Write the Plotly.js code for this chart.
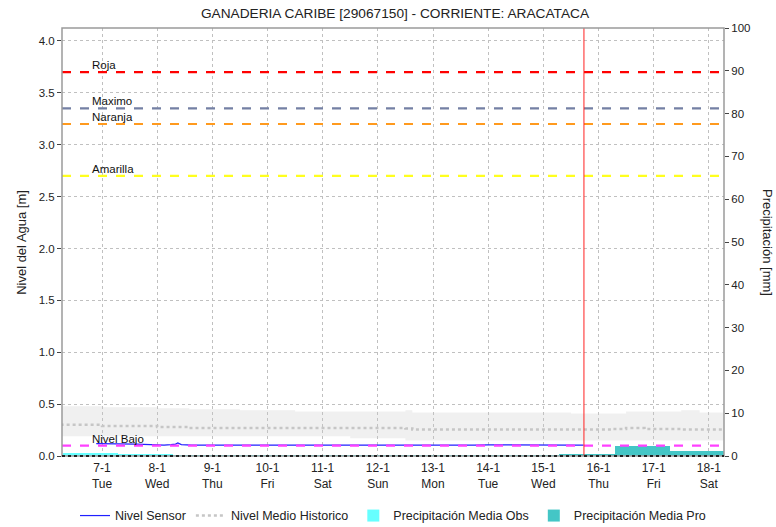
<!DOCTYPE html>
<html>
<head>
<meta charset="utf-8">
<script src="https://cdn.plot.ly/plotly-3.0.1.min.js"></script>
<style>html,body{margin:0;padding:0;background:#fff;}#chart{width:776px;height:527px;}</style>
</head>
<body>
<div id="chart"></div>
<script>
// ---- data ----
const sensorTime = ['2025-01-06 21:30','2025-01-07 03:00','2025-01-07 09:00','2025-01-07 15:00','2025-01-07 21:00','2025-01-08 03:00','2025-01-08 06:00','2025-01-08 08:00','2025-01-08 09:00','2025-01-08 10:30','2025-01-08 15:00','2025-01-08 21:00','2025-01-09 06:00','2025-01-09 18:00','2025-01-10 06:00','2025-01-10 18:00','2025-01-11 06:00','2025-01-11 18:00','2025-01-12 06:00','2025-01-12 12:00','2025-01-12 18:00','2025-01-13 06:00','2025-01-13 12:00','2025-01-13 18:00','2025-01-14 00:00','2025-01-14 12:00','2025-01-15 00:00','2025-01-15 06:00','2025-01-15 12:00','2025-01-15 17:30'];
const sensorVal  = [0.12,0.12,0.12,0.115,0.11,0.105,0.11,0.115,0.125,0.11,0.105,0.105,0.105,0.104,0.105,0.104,0.105,0.104,0.102,0.100,0.100,0.100,0.100,0.105,0.108,0.105,0.105,0.102,0.105,0.105];

const histTime  = ['2025-01-06 06:00','2025-01-07 00:00','2025-01-08 00:00','2025-01-08 14:00','2025-01-09 12:00','2025-01-10 12:00','2025-01-11 12:00','2025-01-12 12:00','2025-01-12 15:00','2025-01-13 12:00','2025-01-14 12:00','2025-01-15 12:00','2025-01-16 06:00','2025-01-16 12:00','2025-01-16 20:00','2025-01-17 12:00','2025-01-17 20:00','2025-01-18 08:00'];
const histUpper = [0.48,0.47,0.46,0.45,0.44,0.43,0.43,0.44,0.42,0.42,0.42,0.41,0.41,0.43,0.43,0.44,0.42,0.42];
const histLower = [0.19,0.19,0.19,0.19,0.19,0.19,0.17,0.15,0.15,0.15,0.15,0.15,0.15,0.15,0.15,0.15,0.15,0.15];
const histMedian= [0.30,0.29,0.28,0.27,0.27,0.27,0.27,0.265,0.255,0.255,0.255,0.255,0.26,0.27,0.26,0.255,0.255,0.255];

const obsStart = ['2025-01-06 07:00','2025-01-07 07:00','2025-01-08 07:00','2025-01-09 07:00','2025-01-10 07:00','2025-01-11 07:00','2025-01-12 07:00','2025-01-13 07:00','2025-01-14 07:00'];
const obsVal   = [0.6,0.5,0.3,0.3,0.3,0.3,0.3,0.3,0.3];
const proStart = ['2025-01-15 07:00','2025-01-16 07:00','2025-01-17 07:00'];
const proVal   = [0.4,2.3,1.25];

const thresholdNames  = ['Roja','Maximo','Naranja','Amarilla','Nivel Bajo'];
const thresholdValues = [3.7,3.35,3.2,2.7,0.1];
const thresholdColors = ['#ff0000','#7480a4','#ff9a1e','#ffff1e','#ff40ff'];

const dayTicks  = ['2025-01-07','2025-01-08','2025-01-09','2025-01-10','2025-01-11','2025-01-12','2025-01-13','2025-01-14','2025-01-15','2025-01-16','2025-01-17','2025-01-18'];
const dayLabels = ['7-1<br>Tue','8-1<br>Wed','9-1<br>Thu','10-1<br>Fri','11-1<br>Sat','12-1<br>Sun','13-1<br>Mon','14-1<br>Tue','15-1<br>Wed','16-1<br>Thu','17-1<br>Fri','18-1<br>Sat'];
const levelTicks = [0,0.5,1,1.5,2,2.5,3,3.5,4];
const precipTicks = [0,10,20,30,40,50,60,70,80,90,100];
const nowTime = '2025-01-15 17:40';
const xRange = ['2025-01-06 06:36','2025-01-18 06:36'];

const FONT = 'Liberation Sans, Arial, sans-serif';
const DAY = 86400000;

const traces = [
  {type:'bar', x:obsStart, y:obsVal, width:obsStart.map(()=>DAY), offset:0, marker:{color:'#66ffff', line:{width:0}}, name:'Precipitación Media Obs', yaxis:'y', xaxis:'x', legendrank:3},
  {type:'bar', x:proStart, y:proVal, width:proStart.map(()=>DAY), offset:0, marker:{color:'#44c6c6', line:{width:0}}, name:'Precipitación Media Pro', yaxis:'y', xaxis:'x', legendrank:4},
  {type:'scatter', mode:'lines', x:histTime, y:histLower, yaxis:'y2', line:{width:0, shape:'hv'}, showlegend:false, hoverinfo:'skip'},
  {type:'scatter', mode:'lines', x:histTime, y:histUpper, yaxis:'y2', line:{width:0, shape:'hv'}, fill:'tonexty', fillcolor:'rgba(200,200,200,0.27)', showlegend:false, hoverinfo:'skip'},
  {type:'scatter', mode:'lines', x:histTime, y:histMedian, yaxis:'y2', line:{color:'#c6c6c6', width:2.5, dash:'dot', shape:'hv'}, name:'Nivel Medio Historico', legendrank:2},
  {type:'scatter', mode:'lines', x:sensorTime, y:sensorVal, yaxis:'y2', line:{color:'#2020ff', width:1.2}, name:'Nivel Sensor', legendrank:1}
];

const shapes = [];
const annotations = [];
thresholdValues.forEach((v,i)=>{
  shapes.push({type:'line', xref:'paper', x0:0, x1:1, yref:'y2', y0:v, y1:v, line:{color:thresholdColors[i], width:2.2, dash:'dash'}, layer:'above'});
  annotations.push({xref:'paper', x:0.042, yref:'y2', y:v, xanchor:'left', yanchor:'bottom', yshift:-1, text:thresholdNames[i], showarrow:false, font:{family:FONT, size:11.5, color:'#111'}});
});
shapes.push({type:'line', xref:'x', x0:nowTime, x1:nowTime, yref:'paper', y0:0, y1:1, line:{color:'#ff2020', width:1}, layer:'above'});
shapes.push({type:'rect', xref:'paper', x0:0, x1:1, yref:'paper', y0:0, y1:1, line:{color:'#9a9a9a', width:1.5}, layer:'above'});
shapes.push({type:'line', xref:'paper', x0:0, x1:1, yref:'paper', y0:0, y1:0, line:{color:'#222', width:2, dash:'dot'}, layer:'above'});

annotations.push({xref:'paper', yref:'paper', x:-0.0604, y:0.498, xanchor:'center', yanchor:'middle', textangle:-90, text:'Nivel del Agua [m]', showarrow:false, font:{family:FONT, size:13, color:'#222'}});
annotations.push({xref:'paper', yref:'paper', x:1.0665, y:0.50, xanchor:'center', yanchor:'middle', textangle:90, text:'Precipitación [mm]', showarrow:false, font:{family:FONT, size:13, color:'#222'}});

const layout = {
  width:776, height:527,
  margin:{l:62, r:52, t:28, b:71},
  paper_bgcolor:'#fff', plot_bgcolor:'#fff',
  font:{family:FONT, size:11, color:'#222'},
  title:{text:'GANADERIA CARIBE [29067150] - CORRIENTE: ARACATACA', font:{family:FONT, size:13.7, color:'#222'}, x:0.509, xanchor:'center', y:0.9753, yanchor:'middle'},
  barmode:'overlay',
  bargap:0,
  showlegend:true,
  legend:{orientation:'h', x:0.5, xanchor:'center', y:0.021, yref:'container', yanchor:'middle', font:{family:FONT, size:12.5, color:'#222'}, traceorder:'normal', itemwidth:30},
  xaxis:{type:'date', range:xRange, tickvals:dayTicks, ticktext:dayLabels, showgrid:true, gridcolor:'#c0c0c0', griddash:'dot', gridwidth:1, zeroline:false, showline:false, ticks:'', ticklabelstandoff:3, tickfont:{family:FONT, size:12, color:'#222'}},
  yaxis:{side:'right', range:[0,100], tickvals:precipTicks, showgrid:false, zeroline:false, showline:false, ticks:'outside', ticklen:4, tickcolor:'#444', tickfont:{family:FONT, size:11.5, color:'#222'}, fixedrange:true},
  yaxis2:{side:'left', overlaying:'y', range:[0,4.125], tickvals:levelTicks, tickformat:'.1f', showgrid:true, gridcolor:'#c0c0c0', griddash:'dot', gridwidth:1, zeroline:false, showline:false, ticks:'outside', ticklen:4, tickcolor:'#444', tickfont:{family:FONT, size:11.5, color:'#222'}},
  shapes:shapes,
  annotations:annotations
};

Plotly.newPlot('chart', traces, layout, {displayModeBar:false, staticPlot:true});
</script>
</body>
</html>
